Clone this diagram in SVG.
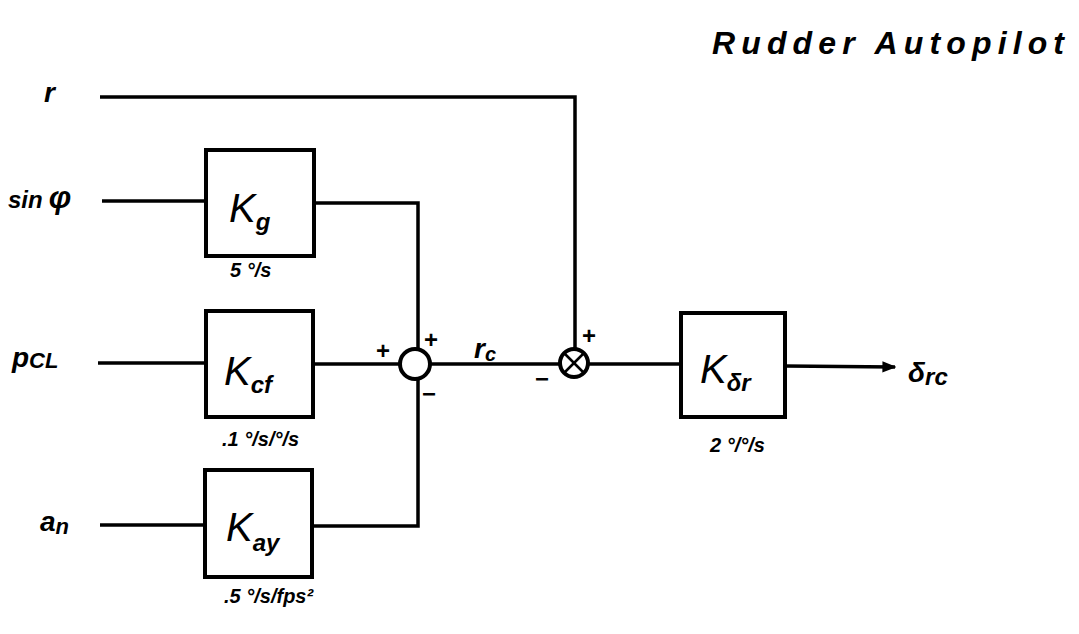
<svg xmlns="http://www.w3.org/2000/svg" width="1079" height="634" viewBox="0 0 1079 634">
<style>
.ln{fill:none;stroke:#000;stroke-width:3.5;stroke-linejoin:miter}
.box{fill:#fff;stroke:#000;stroke-width:4}
.t{font-family:"Liberation Sans",Arial,sans-serif;font-style:italic;fill:#000}
.k{font-size:40px}
.sub{font-size:24px;font-weight:bold}
.g{font-size:20px;font-weight:bold}
.lbl{font-size:28px;font-weight:bold}
.sg{font-size:24px;font-weight:bold;font-family:"Liberation Sans",Arial,sans-serif;fill:#000}
</style>
<defs>
<marker id="arr" viewBox="0 0 10 10" refX="9" refY="5" markerWidth="4" markerHeight="4" orient="auto" markerUnits="strokeWidth">
<path d="M0,1 L10,5 L0,9 Z" fill="#000"/>
</marker>
</defs>
<rect width="1079" height="634" fill="#fff"/>
<text class="t" x="712" y="54" font-size="32" font-weight="bold" textLength="352" lengthAdjust="spacing">Rudder Autopilot</text>

<g id="connectors">
<polyline class="ln" points="100,97 575,97 575,349"/>
<line class="ln" x1="102" y1="201" x2="206" y2="201"/>
<line class="ln" x1="98" y1="363" x2="206" y2="363"/>
<line class="ln" x1="100" y1="525" x2="206" y2="525"/>
<polyline class="ln" points="314,203 418,203 418,349"/>
<line class="ln" x1="313" y1="364" x2="400" y2="364"/>
<polyline class="ln" points="312,526 418,526 418,379"/>
<line class="ln" x1="430" y1="364" x2="561" y2="364"/>
<line class="ln" x1="589" y1="364" x2="681" y2="364"/>
<line class="ln" x1="785" y1="366" x2="895" y2="367" marker-end="url(#arr)"/>
</g>

<g id="in_r"><text class="t lbl" x="44" y="102" font-size="38">r</text></g>
<g id="in_sinphi"><text class="t lbl" x="8" y="208"><tspan font-size="24">sin</tspan><tspan font-size="32" dx="6">φ</tspan></text></g>
<g id="in_pcl"><text class="t lbl" x="12" y="367" font-size="30">p<tspan font-size="22" dy="1">CL</tspan></text></g>
<g id="in_an"><text class="t lbl" x="40" y="531" font-size="30">a<tspan font-size="22" dy="3">n</tspan></text></g>

<g id="Kg">
<rect class="box" x="206" y="150" width="108" height="106"/>
<text class="t k" x="229" y="222">K<tspan class="sub" dy="8">g</tspan></text>
<text class="t g" x="230" y="277">5 °/s</text>
</g>
<g id="Kcf">
<rect class="box" x="206" y="311" width="107" height="106"/>
<text class="t k" x="224" y="385">K<tspan class="sub" dy="8">cf</tspan></text>
<text class="t g" x="222" y="446">.1 °/s/°/s</text>
</g>
<g id="Kay">
<rect class="box" x="205" y="470" width="107" height="107"/>
<text class="t k" x="226" y="541">K<tspan class="sub" dy="10">ay</tspan></text>
<text class="t g" x="224" y="603">.5 °/s/fps²</text>
</g>

<g id="sum1">
<circle cx="415" cy="364" r="15" fill="#fff" stroke="#000" stroke-width="4"/>
<text class="sg" x="376" y="359">+</text>
<text class="sg" x="424" y="348">+</text>
<text class="sg" x="422" y="402">−</text>
</g>
<text class="t lbl" x="474" y="358" font-size="28">r<tspan font-size="20" dy="3">c</tspan></text>

<g id="sum2">
<circle cx="574" cy="363" r="14" fill="#fff" stroke="#000" stroke-width="4"/>
<line x1="564" y1="353" x2="584" y2="373" stroke="#000" stroke-width="2.5"/>
<line x1="584" y1="353" x2="564" y2="373" stroke="#000" stroke-width="2.5"/>
<text class="sg" x="582" y="344">+</text>
<text class="sg" x="535" y="387">−</text>
</g>

<g id="Kdr">
<rect class="box" x="681" y="313" width="104" height="104"/>
<text class="t k" x="700" y="383">K<tspan class="sub" dy="8">δr</tspan></text>
<text class="t g" x="710" y="452">2 °/°/s</text>
</g>

<g id="out"><text class="t lbl" x="908" y="382" font-size="32">δ<tspan font-size="24" dy="3">rc</tspan></text></g>
</svg>
